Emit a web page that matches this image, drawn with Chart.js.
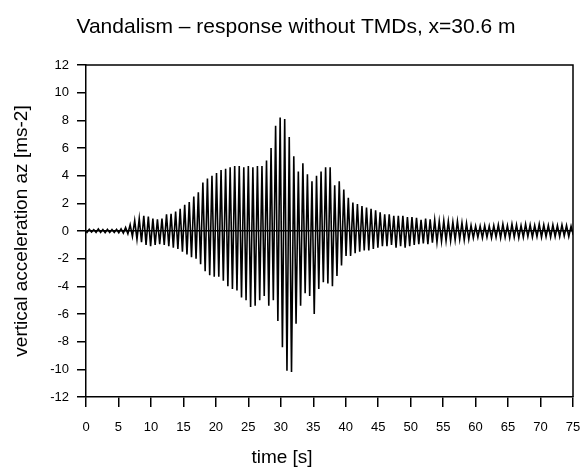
<!DOCTYPE html>
<html>
<head>
<meta charset="utf-8">
<script src="https://cdn.jsdelivr.net/npm/chart.js@4.4.1/dist/chart.umd.min.js"></script>
<style>
  html, body { margin: 0; padding: 0; background: #fff; }
  #wrap { width: 584px; height: 472px; }
</style>
</head>
<body>
<div id="wrap"><canvas id="c" width="584" height="472"></canvas></div>
<script>
// ---- data ----
const titleText = 'Vandalism \u2013 response without TMDs, x=30.6 m';
const xTitle = 'time [s]';
const yTitle = 'vertical acceleration az [ms-2]';
const xTicks = [0,5,10,15,20,25,30,35,40,45,50,55,60,65,70,75];
const yTicks = [-12,-10,-8,-6,-4,-2,0,2,4,6,8,10,12];

// oscillation sampled at its peaks: one positive and one negative peak per cycle
const cycleStart = -0.2;    // s, time of first positive peak
const cyclePeriod = 0.7;    // s, period of the oscillation
// positive peak of each cycle [m/s2]
const posPeaks = [
  0.10,0.12,0.10,0.15,0.10,0.12,0.10,0.12,0.15,0.25,
  0.45,0.75,0.90,1.10,1.05,0.90,0.85,0.90,1.20,1.25,
  1.40,1.60,1.90,2.10,2.50,2.80,3.50,3.80,4.00,4.20,
  4.40,4.50,4.60,4.70,4.70,4.60,4.70,4.60,4.70,4.70,
  5.10,6.00,7.60,8.20,8.10,6.80,5.40,4.30,4.90,4.10,
  3.60,4.00,4.30,4.60,4.60,3.30,3.60,3.00,2.40,2.05,
  1.95,1.80,1.70,1.60,1.50,1.35,1.20,1.20,1.10,1.10,
  1.10,1.00,1.00,0.95,0.80,0.90,0.85,0.80,0.70,0.75,
  0.70,0.65,0.70,0.60,0.55,0.40,0.35,0.35,0.40,0.35,
  0.40,0.45,0.50,0.40,0.50,0.45,0.40,0.50,0.45,0.40,
  0.50,0.45,0.40,0.45,0.40,0.45,0.40,0.35,0.35
];
// negative peak of each cycle [m/s2]
const negPeaks = [
  -0.10,-0.08,-0.10,-0.10,-0.12,-0.10,-0.10,-0.12,-0.15,-0.20,
  -0.40,-0.60,-0.80,-1.00,-1.10,-1.00,-0.95,-1.00,-1.10,-1.20,
  -1.30,-1.50,-1.70,-1.90,-2.00,-2.40,-2.90,-3.20,-3.30,-3.30,
  -3.60,-4.00,-4.20,-4.30,-4.80,-5.00,-5.50,-5.40,-5.00,-4.70,
  -5.40,-5.00,-6.50,-8.40,-10.10,-10.20,-6.70,-5.40,-4.50,-4.70,
  -6.00,-4.20,-3.70,-3.80,-4.00,-3.25,-2.50,-1.80,-1.80,-1.60,
  -1.50,-1.40,-1.40,-1.30,-1.20,-1.10,-1.10,-1.00,-1.20,-1.10,
  -1.20,-1.10,-1.00,-0.95,-0.90,-0.95,-0.85,-0.80,-0.75,-0.70,
  -0.70,-0.65,-0.60,-0.65,-0.60,-0.50,-0.45,-0.50,-0.45,-0.50,
  -0.45,-0.50,-0.45,-0.50,-0.45,-0.50,-0.45,-0.40,-0.45,-0.40,
  -0.45,-0.40,-0.45,-0.40,-0.40,-0.35,-0.40,-0.30,-0.30
];

const points = [];
for (let i = 0; i < posPeaks.length; i++) {
  const t = cycleStart + i * cyclePeriod;
  points.push({ x: t, y: posPeaks[i] });
  points.push({ x: t + cyclePeriod / 2, y: negPeaks[i] });
}

const FONT = "'Liberation Sans', Arial, Helvetica, sans-serif";

const framePlugin = {
  id: 'frame',
  afterDraw(chart) {
    const { ctx, chartArea: a } = chart;
    ctx.save();
    ctx.strokeStyle = '#000';
    ctx.lineWidth = 1.5;
    ctx.beginPath();
    ctx.moveTo(a.left, a.top);
    ctx.lineTo(a.right, a.top);
    ctx.lineTo(a.right, a.bottom);
    ctx.stroke();
    ctx.fillStyle = '#000';
    ctx.textAlign = 'center';
    ctx.textBaseline = 'middle';
    // chart title
    ctx.font = '21px ' + FONT;
    ctx.fillText(titleText, 296, 27);
    // x axis title
    ctx.font = '19px ' + FONT;
    ctx.fillText(xTitle, 282, 458);
    ctx.restore();
  }
};

new Chart(document.getElementById('c'), {
  type: 'scatter',
  data: {
    datasets: [{
      data: points,
      showLine: true,
      borderColor: '#000',
      borderWidth: 1.6,
      pointRadius: 0,
      tension: 0,
      fill: false
    }]
  },
  options: {
    responsive: false,
    animation: false,
    layout: { padding: { left: 0, right: 2, top: 65, bottom: 0 } },
    plugins: {
      legend: { display: false },
      tooltip: { enabled: false },
      title: { display: false }
    },
    scales: {
      x: {
        type: 'linear',
        min: 0, max: 75,
        afterBuildTicks: s => { s.ticks = xTicks.map(v => ({ value: v })); },
        afterFit: s => { s.height = 75; s.paddingRight = 11; s.paddingLeft = 0; },
        ticks: { color: '#000', font: { family: FONT, size: 13 }, padding: 13, maxRotation: 0 },
        grid: { drawOnChartArea: false, tickLength: 10, color: '#000', lineWidth: 1.5 },
        border: { color: '#000', width: 1.5 }
      },
      y: {
        min: -12, max: 12,
        afterBuildTicks: s => { s.ticks = yTicks.map(v => ({ value: v })); },
        afterFit: s => { s.width = 86; },
        ticks: { color: '#000', font: { family: FONT, size: 13 }, padding: 8 },
        grid: {
          drawOnChartArea: true,
          tickLength: 9,
          color: c => (c.tick && c.tick.value === 0) ? '#000' : 'rgba(0,0,0,0)',
          tickColor: '#000',
          lineWidth: 1.5
        },
        border: { color: '#000', width: 1.5 },
        title: {
          display: true,
          text: yTitle,
          color: '#000',
          font: { family: FONT, size: 19 },
          padding: { top: 10, bottom: 0 }
        }
      }
    }
  },
  plugins: [framePlugin]
});
</script>
</body>
</html>
